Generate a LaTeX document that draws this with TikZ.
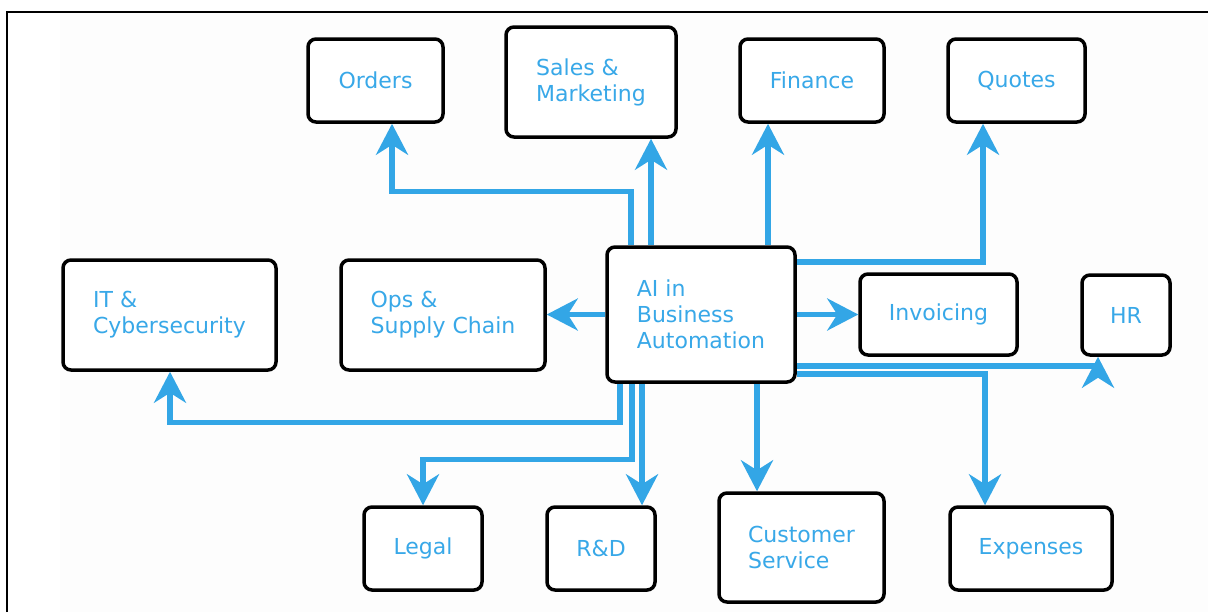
\documentclass[tikz,border=0pt]{standalone}
\usepackage{fontspec}
\setmainfont{DejaVu Sans}
\usetikzlibrary{arrows.meta,calc}
\definecolor{tblue}{HTML}{38A8E8}
\definecolor{lblue}{HTML}{33A6E6}
\definecolor{paper}{HTML}{FDFDFD}
\begin{document}
\begin{tikzpicture}[x=0.5pt,y=-0.5pt,
  box/.style={draw=black, line width=1.75pt, rounded corners=4pt, fill=white,
    inner sep=0pt, align=left, text=tblue, font=\fontsize{11}{13}\selectfont},
  conn/.style={draw=lblue, line width=2.7pt,
    -{Stealth[length=15.5pt,width=16pt,inset=5pt]}}]
\useasboundingbox (0,0) rectangle (1208,612);
% page and frame
\fill[paper] (60,13) rectangle (1208,612);
\draw[line width=1pt] (7,612) -- (7,12) -- (1208,12);

% boxes
\node[box, minimum width=67.5pt, minimum height=41.5pt] (orders)  at (375.5,80.5) {Orders};
\node[box, minimum width=85pt,   minimum height=55pt]   (sales)   at (591,82)     {Sales \&\\Marketing};
\node[box, minimum width=72pt,   minimum height=41.5pt] (finance) at (812,80.5)   {Finance};
\node[box, minimum width=68.5pt, minimum height=41.5pt] (quotes)  at (1016.5,80.5) {Quotes};
\node[box, minimum width=106.5pt,minimum height=55pt]   (it)      at (169.5,315)  {IT \&\\Cybersecurity};
\node[box, minimum width=102pt,  minimum height=55pt]   (ops)     at (443,315)    {Ops \&\\Supply Chain};
\node[box, minimum width=94pt,   minimum height=67.5pt] (ai)      at (701,314.5)  {AI in\\Business\\Automation};
\node[box, minimum width=78.5pt, minimum height=40.5pt] (invoice) at (938.5,314.5) {Invoicing};
\node[box, minimum width=44pt,   minimum height=40pt]   (hr)      at (1126,315)   {HR};
\node[box, minimum width=59pt,   minimum height=41.5pt] (legal)   at (423,548.5)  {Legal};
\node[box, minimum width=54pt,   minimum height=41.5pt] (rd)      at (601,548.5)  {R\&D};
\node[box, minimum width=82.5pt, minimum height=54.5pt] (cs)      at (801.5,547.5) {Customer\\Service};
\node[box, minimum width=81pt,   minimum height=41.5pt] (expenses) at (1031,548.5) {Expenses};

% connectors from the central box
\draw[conn] ($(ai.north)+(-70,0)$) -- ++(0,-54) -| ($(orders.south)+(16.5,0)$);
\draw[conn] ($(ai.north)+(-50,0)$) -- ($(sales.south)+(60,0)$);
\draw[conn] ($(ai.north)+(67,0)$) -- ($(finance.south)+(-44,0)$);
\draw[conn] ($(ai.east)+(0,-52.5)$) -| ($(quotes.south)+(-33.5,0)$);
\draw[conn] (ai.west) -- (ai.west -| ops.east);
\draw[conn] (ai.east) -- (ai.east -| invoice.west);
\draw[conn] ($(ai.east)+(0,51.5)$) -| ($(hr.south)+(-28,0)$);
\draw[conn] ($(ai.east)+(0,59.5)$) -| ($(expenses.north)+(-46,0)$);
\draw[conn] ($(ai.south)+(56,0)$) -- ($(cs.north)+(-44.5,0)$);
\draw[conn] ($(ai.south)+(-59,0)$) -- ($(rd.north)+(41,0)$);
\draw[conn] ($(ai.south)+(-69,0)$) -- ++(0,76) -| (legal.north);
\draw[conn] ($(ai.south)+(-81,0)$) -- ++(0,39) -| ($(it.south)+(0.5,0)$);
\end{tikzpicture}
\end{document}
